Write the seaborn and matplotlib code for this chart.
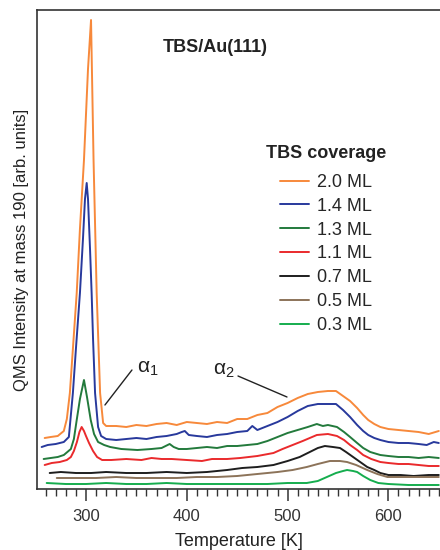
import matplotlib
matplotlib.use("Agg")
import matplotlib.pyplot as plt
from matplotlib.ticker import MultipleLocator
import pandas as pd
import seaborn as sns

# TPD traces (temperature in K, intensity in arb. units)
T_20 = [259, 265, 272, 278, 281, 284, 287, 290.8, 294, 298, 302, 305, 307.5, 310.6,
        314, 317, 320, 330, 340, 350, 360, 370, 380, 390, 400, 410, 420, 430,
        440, 450, 460, 470, 480, 490, 500, 510, 520, 530, 540, 548, 555, 562, 569, 575, 580,
        586, 592, 600, 610, 620, 630, 640, 650]
I_20 = [51, 52, 53, 58, 70, 96, 140, 196, 260, 329, 420, 469, 329, 196,
        96, 66, 63, 63, 62, 64, 63, 65, 66, 64, 67, 66, 65, 67,
        66, 70, 70, 74, 76, 82, 86, 91, 95, 97, 98, 98, 93, 88, 81, 74, 69,
        65, 62, 60, 59, 58, 57, 55, 58]

T_14 = [256, 262, 270, 278, 283, 287, 290, 294, 297, 299, 300.7, 302, 304, 305.6, 307,
        309, 312, 315, 320, 330, 340, 350, 360, 370, 380, 390, 395, 398, 402, 410, 420, 430,
        440, 450, 460, 465, 470, 480, 490, 500, 510, 520, 530, 540, 548, 555, 562, 569, 575,
        580, 586, 592, 600, 610, 620, 630, 638, 645, 650]
I_14 = [42, 44, 45, 47, 52, 96, 140, 196, 250, 290, 306, 290, 240, 196, 150,
        96, 62, 53, 50, 49, 50, 51, 50, 52, 53, 55, 57, 58, 54, 53, 52, 54,
        55, 57, 58, 63, 59, 63, 67, 72, 78, 83, 85, 85, 85, 79, 72, 64, 58,
        54, 51, 49, 47, 46, 46, 45, 44, 47, 46]

T_13 = [258, 265, 272, 278, 285, 288, 290.8, 294, 298, 301, 304.7, 308, 312, 318, 324,
        335, 351, 365, 375, 383, 387, 392, 400, 410, 420, 430, 440, 450, 460, 470, 480, 490,
        500, 510, 520, 529, 535, 540, 549, 556, 562, 569, 575, 582, 592, 600, 610, 620, 630,
        640, 650]
I_13 = [30, 31, 32, 34, 40, 50, 69, 90, 109, 92, 69, 55, 47, 44, 42,
        40, 39, 40, 41, 45, 42, 40, 40, 41, 42, 41, 43, 43, 44, 45, 48, 52,
        56, 59, 62, 65, 63, 64, 62, 57, 52, 46, 41, 37, 34, 33, 32, 32, 31,
        32, 31]

T_11 = [259, 266, 274, 281, 285, 288, 291, 293.5, 295.7, 298, 300, 303, 307, 311, 316, 325,
        340, 355, 365, 375, 385, 400, 415, 425, 440, 453, 470, 486, 495, 505, 515, 522, 529,
        540, 549, 556, 562, 569, 575, 583, 592, 600, 610, 620, 630, 640, 650]
I_11 = [24, 26, 27, 29, 32, 38, 47, 57, 62, 58, 53, 46, 38, 32, 29, 29,
        30, 29, 31, 30, 30, 29, 28, 30, 30, 31, 33, 36, 40, 44, 48, 51, 54,
        55, 53, 49, 44, 39, 34, 30, 27, 26, 25, 25, 24, 23, 23]

T_07 = [264, 275, 290, 305, 320, 340, 360, 380, 400, 420, 440, 455, 470, 486, 500, 512, 522,
        530, 537, 545, 552, 558, 565, 572, 579, 586, 592, 600, 612, 625, 640, 650]
I_07 = [16, 17, 16, 16, 17, 16, 16, 17, 16, 17, 19, 21, 22, 24, 28, 32, 37,
        41, 43, 42, 41, 37, 32, 27, 22, 19, 16, 14, 14, 13, 14, 14]

T_05 = [271, 290, 310, 330, 350, 370, 390, 410, 430, 450, 470, 490, 505, 519, 530, 542, 552,
        559, 568, 579, 589, 599, 615, 630, 650]
I_05 = [11, 11, 11, 12, 11, 11, 11, 12, 12, 13, 15, 17, 19, 22, 25, 28, 28,
        27, 24, 19, 15, 12, 12, 12, 12]

T_03 = [261, 280, 300, 320, 340, 360, 380, 400, 420, 440, 460, 480, 500, 519, 530, 539, 548,
        555, 559, 565, 569, 575, 582, 590, 600, 620, 640, 650]
I_03 = [6, 5, 5, 6, 5, 5, 6, 5, 5, 5, 5, 5, 6, 6, 8, 12, 16,
        18, 19, 18, 17, 13, 9, 6, 5, 4, 4, 4]

COVERAGES = ["2.0 ML", "1.4 ML", "1.3 ML", "1.1 ML", "0.7 ML", "0.5 ML", "0.3 ML"]
SERIES = [(T_20, I_20), (T_14, I_14), (T_13, I_13), (T_11, I_11),
          (T_07, I_07), (T_05, I_05), (T_03, I_03)]

COLORS = {
    "2.0 ML": "#f7893b",
    "1.4 ML": "#28399c",
    "1.3 ML": "#237a3c",
    "1.1 ML": "#ea2a2c",
    "0.7 ML": "#1e1e1e",
    "0.5 ML": "#8c7359",
    "0.3 ML": "#15ad4e",
}

sns.set_style("ticks")
plt.rcParams["font.family"] = ["Liberation Sans", "DejaVu Sans"]
plt.rcParams["mathtext.fontset"] = "custom"
plt.rcParams["mathtext.rm"] = "Liberation Sans"
plt.rcParams["mathtext.it"] = "Liberation Sans"

df = pd.concat(
    [pd.DataFrame({"T": t, "I": i, "coverage": c}) for c, (t, i) in zip(COVERAGES, SERIES)],
    ignore_index=True,
)

fig = plt.figure(figsize=(4.4, 5.5), dpi=100)
ax = fig.add_axes([37 / 440, 61 / 550, 403 / 440, 479 / 550])

sns.lineplot(
    data=df, x="T", y="I", hue="coverage", hue_order=COVERAGES, palette=COLORS,
    estimator=None, linewidth=1.4, legend=True, ax=ax,
)

ax.set_xlim(251.4, 651.2)
ax.set_ylim(0, 479)
ax.set_yticks([])
ax.set_xticks([300, 400, 500, 600])
ax.xaxis.set_minor_locator(MultipleLocator(10))
ax.tick_params(axis="x", which="major", length=8.6, width=1.1, direction="out",
               colors="#333333", labelsize=12, pad=6)
ax.tick_params(axis="x", which="minor", length=5, width=1.0, direction="out", colors="#333333")
for side in ["left", "top", "bottom"]:
    ax.spines[side].set_color("#333333")
    ax.spines[side].set_linewidth(1.2)
ax.spines["right"].set_visible(False)

ax.set_xlabel("Temperature [K]", fontsize=13, color="#222222", labelpad=6)
ax.set_ylabel("QMS Intensity at mass 190 [arb. units]", fontsize=12, color="#222222", labelpad=6)

# legend rebuilt with the look of the original; title drawn separately
old = ax.get_legend()
handles = old.legend_handles
labels = [t.get_text() for t in old.get_texts()]
old.remove()
leg = ax.legend(
    handles, labels, loc="center",
    bbox_to_anchor=(326 / 440, 1 - 254 / 550), bbox_transform=fig.transFigure,
    frameon=False, fontsize=13, handlelength=1.6, handletextpad=0.4, labelspacing=0.38,
)
for h in leg.legend_handles:
    h.set_linewidth(1.4)
fig.text(326 / 440, 1 - 153 / 550, "TBS coverage", fontsize=13, fontweight="bold",
         ha="center", va="center", color="#222222")

fig.text(215 / 440, 1 - 48 / 550, "TBS/Au(111)", fontsize=13, fontweight="bold",
         ha="center", va="center", color="#222222")

# peak labels
ax.annotate("", xy=(318.8, 84), xytext=(345.6, 119),
            arrowprops={"arrowstyle": "-", "color": "#222222", "lw": 1.0,
                        "shrinkA": 0, "shrinkB": 0})
ax.text(361.5, 121, "α$_1$", fontsize=15, ha="center", va="center", color="#222222")
ax.annotate("", xy=(499.4, 92), xytext=(450.8, 113),
            arrowprops={"arrowstyle": "-", "color": "#222222", "lw": 1.0,
                        "shrinkA": 0, "shrinkB": 0})
ax.text(447, 118, "α$_2$", fontsize=15, ha="right", va="center", color="#222222")

fig.savefig("out.png", dpi=100)
plt.close(fig)
